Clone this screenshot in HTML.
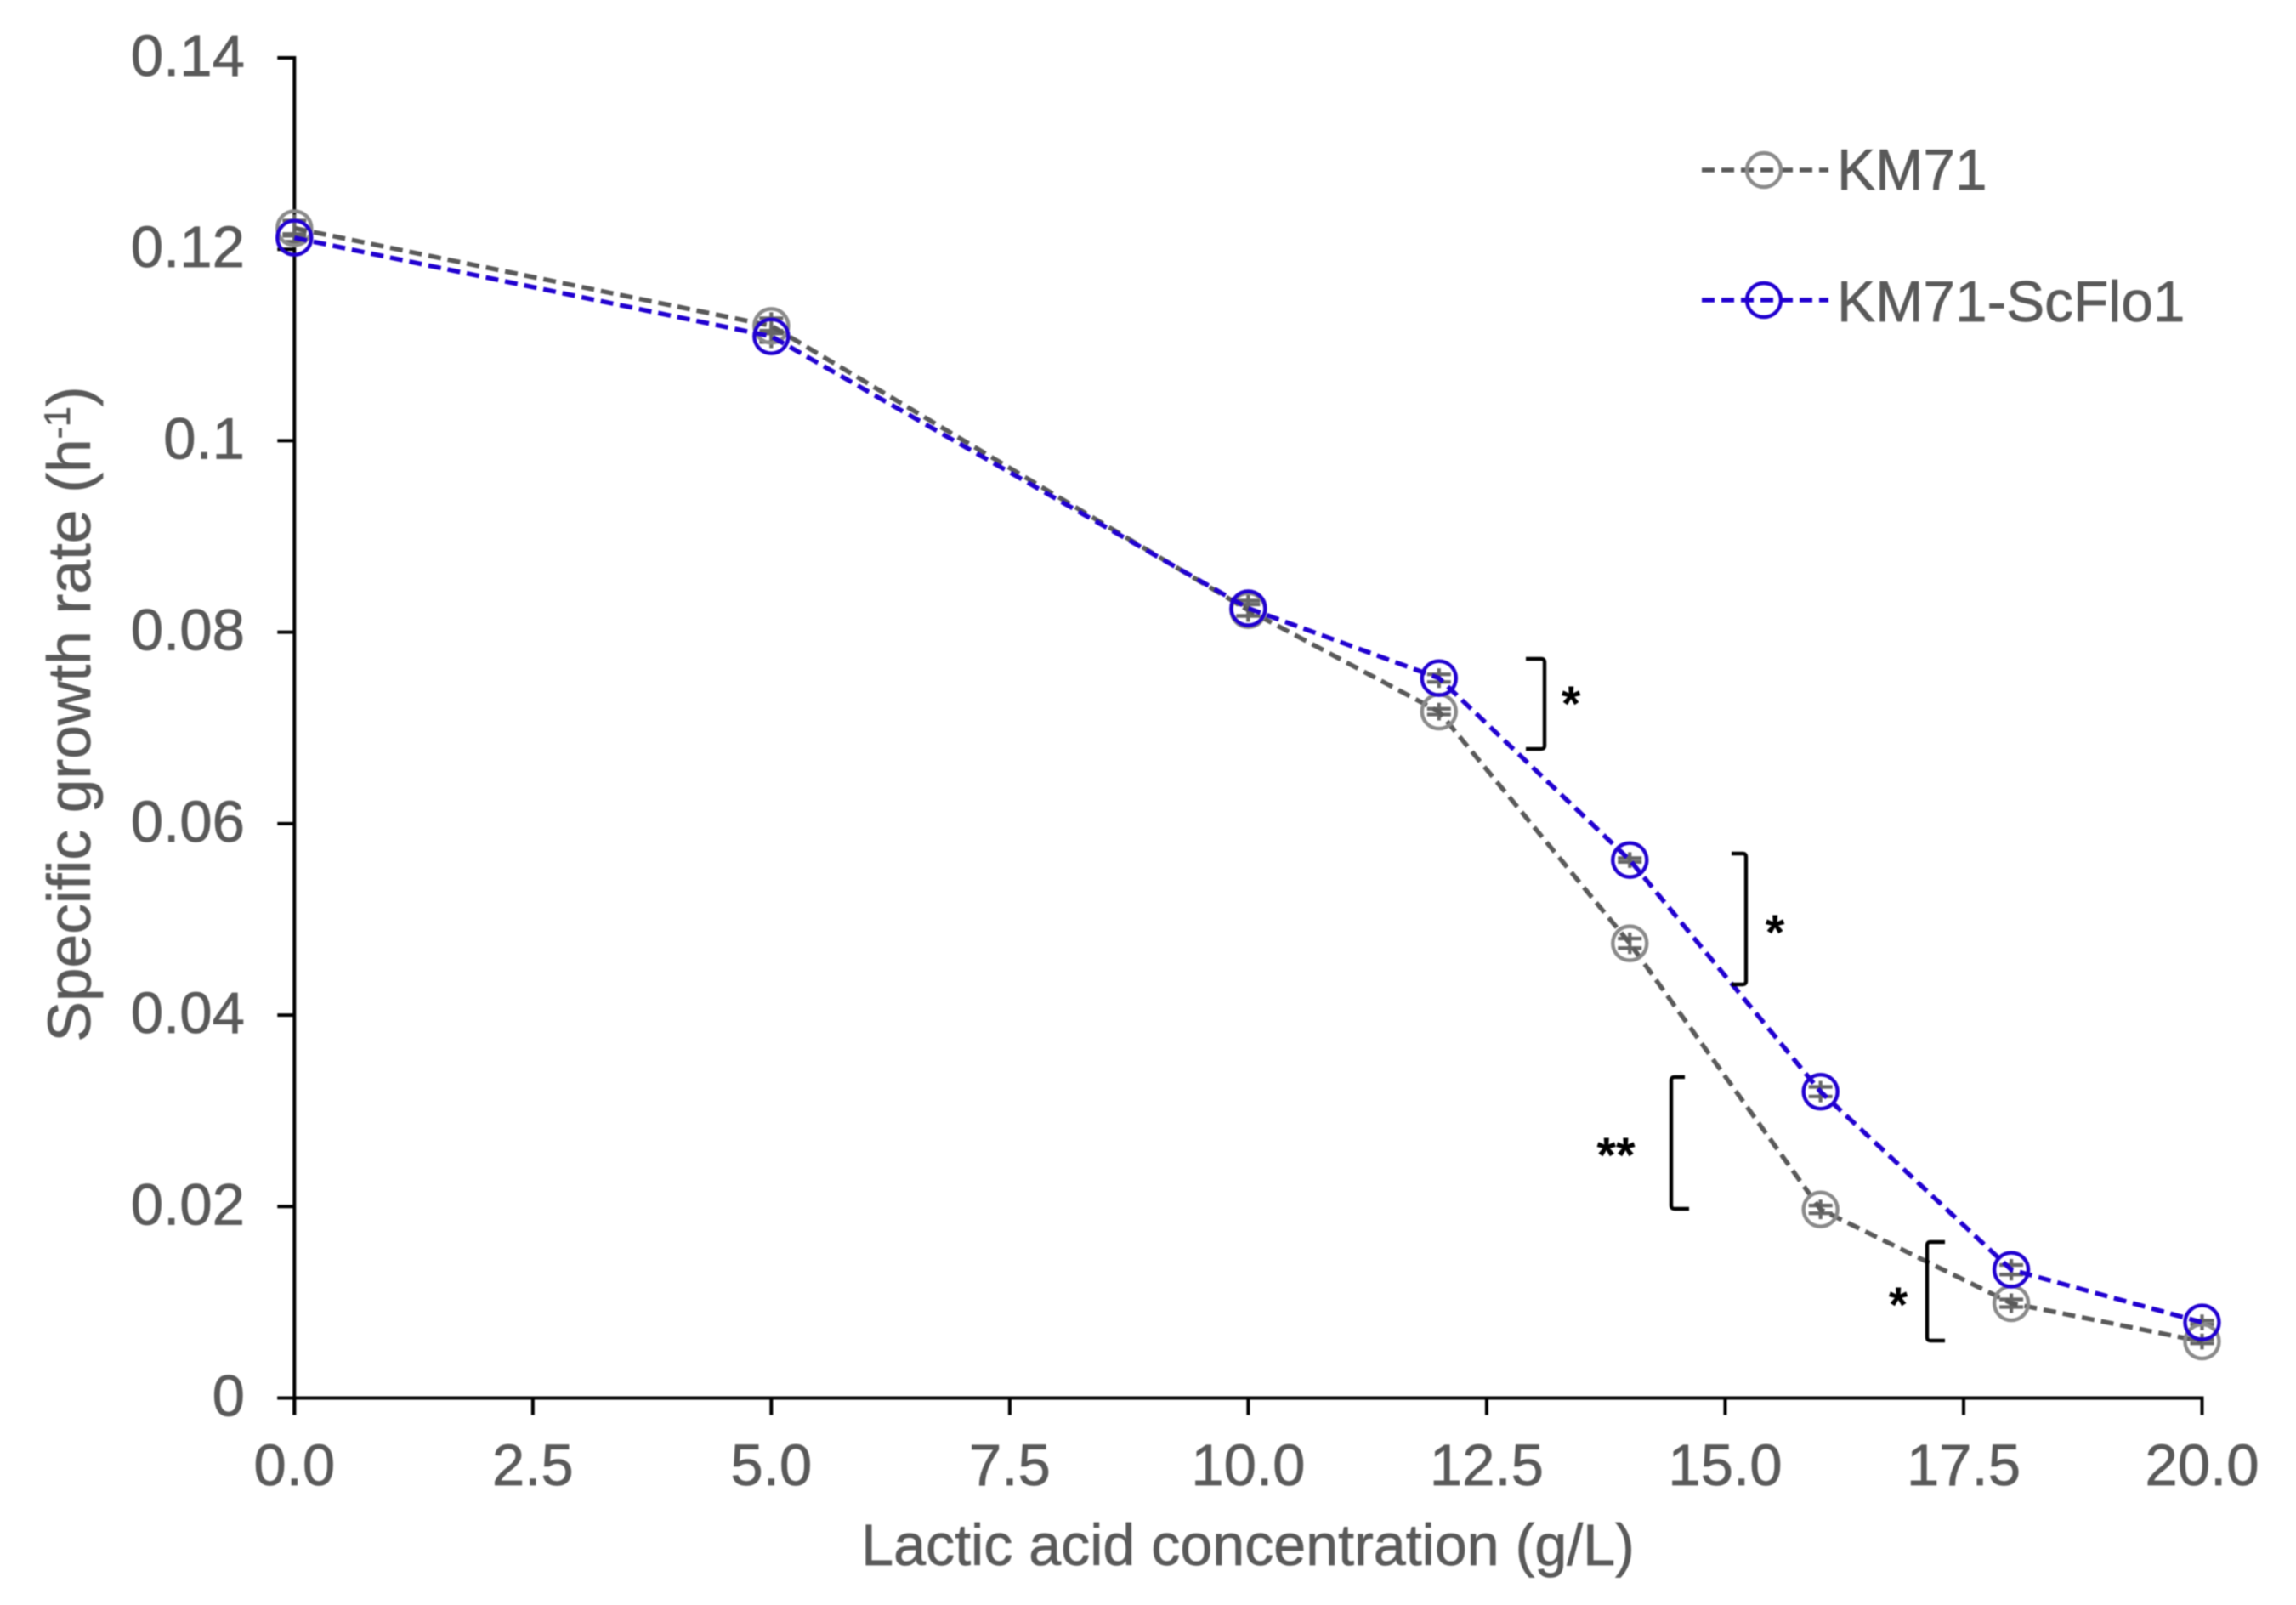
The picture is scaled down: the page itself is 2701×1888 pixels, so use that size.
<!DOCTYPE html>
<html lang="en">
<head>
<meta charset="utf-8">
<title>Specific growth rate vs lactic acid concentration</title>
<style>
html,body{margin:0;padding:0;background:#fff;}
svg{display:block;filter:blur(0.9px);}
text{font-family:"Liberation Sans",Arial,sans-serif;fill:#595959;stroke:#595959;stroke-width:0.7px;}
.star{font-weight:bold;fill:#000;stroke:none;font-size:58px;text-anchor:middle;}
.bracket{fill:none;stroke:#000;stroke-width:4.4;stroke-linejoin:round;}
</style>
</head>
<body>
<svg id="chart" xmlns="http://www.w3.org/2000/svg" width="2701" height="1888" viewBox="0 0 2701 1888">
  <rect x="0" y="0" width="2701" height="1888" fill="#fff"/>
  <g id="axes"></g>
  <g id="series"></g>

  <text x="1468" y="1841" font-size="68.2" text-anchor="middle">Lactic acid concentration (g/L)</text>
  <text transform="translate(106,840) rotate(-90)" font-size="71.3" text-anchor="middle">Specific growth rate (h<tspan font-size="43" dy="-24">-1</tspan><tspan dy="24">)</tspan></text>

  <g>
    <g>
      <line x1="2002" y1="200" x2="2151" y2="200" stroke="#595959" stroke-width="5.4" stroke-dasharray="15 8"/>
      <circle cx="2075" cy="200" r="20" fill="none" stroke="#8a8a8a" stroke-width="4.4"/>
      <text x="2161" y="223" font-size="67.6">KM71</text>
    </g>
    <g>
      <line x1="2002" y1="353" x2="2151" y2="353" stroke="#2000d0" stroke-width="5.4" stroke-dasharray="15 8"/>
      <circle cx="2075" cy="353" r="20" fill="none" stroke="#2000d0" stroke-width="4.4"/>
      <text x="2161" y="378" font-size="67.6">KM71-ScFlo1</text>
    </g>
  </g>

  <g>
    <path class="bracket" d="M1795 775 H1813 Q1817 775 1817 779 V877 Q1817 881 1813 881 H1795"/>
    <text class="star" x="1848" y="848">*</text>
    <path class="bracket" d="M2037 1004 H2050 Q2054 1004 2054 1008 V1154 Q2054 1158 2050 1158 H2037"/>
    <text class="star" x="2088" y="1117">*</text>
    <path class="bracket" d="M1982 1267 H1970 Q1966 1267 1966 1271 V1418 Q1966 1422 1970 1422 H1987"/>
    <text class="star" x="1901" y="1379">**</text>
    <path class="bracket" d="M2288 1461 H2271 Q2267 1461 2267 1465 V1573 Q2267 1577 2271 1577 H2288"/>
    <text class="star" x="2233" y="1555">*</text>
  </g>
</svg>
<script>
const concentrations = [0, 5, 10, 12, 14, 16, 18, 20];
const km71Values = [0.1222, 0.1120, 0.0823, 0.0717, 0.0475, 0.0197, 0.0099, 0.0059];
const scflo1Values = [0.1212, 0.1109, 0.0825, 0.0752, 0.0562, 0.0320, 0.0134, 0.0079];
const km71Errors = [0.0008, 0.0008, 0.0006, 0.0003, 0.0005, 0.0004, 0.0004, 0.0002];
const scflo1Errors = [0.0004, 0.0006, 0.0008, 0.0004, 0.0002, 0.0005, 0.0005, 0.0002];
const xTickValues = [0, 2.5, 5, 7.5, 10, 12.5, 15, 17.5, 20];
const xTickLabels = ["0.0", "2.5", "5.0", "7.5", "10.0", "12.5", "15.0", "17.5", "20.0"];
const yTickValues = [0, 0.02, 0.04, 0.06, 0.08, 0.1, 0.12, 0.14];
const yTickLabels = ["0", "0.02", "0.04", "0.06", "0.08", "0.1", "0.12", "0.14"];

const NS = "http://www.w3.org/2000/svg";
const X0 = 346.3, X1 = 2590.5, Y0 = 1644.5, Y1 = 68;
function xScale(v) { return X0 + (v - 0) / (20 - 0) * (X1 - X0); }
function yScale(v) { return Y0 - (v - 0) / (0.14 - 0) * (Y0 - Y1); }
function make(parent, tag, attrs) {
  const el = document.createElementNS(NS, tag);
  for (const k in attrs) { el.setAttribute(k, attrs[k]); }
  parent.appendChild(el);
  return el;
}

const axes = document.getElementById("axes");
const AXIS_W = 4;

const yAxis = make(axes, "line", { x1: X0, y1: yScale(0.14) - 2, x2: X0, y2: Y0 + 20, stroke: "#000", "stroke-width": AXIS_W });



const xAxis = make(axes, "line", { x1: X0 - 20, y1: Y0, x2: X1 + 2, y2: Y0, stroke: "#000", "stroke-width": AXIS_W });



yTickValues.forEach(function (v, i) {
  const y = yScale(v);
  const tick = make(axes, "line", { x1: X0 - 20, y1: y, x2: X0, y2: y, stroke: "#000", "stroke-width": AXIS_W });
  
  
  const label = make(axes, "text", { x: 288, y: y + 21, "font-size": 69, "text-anchor": "end" });
  
  
  label.textContent = yTickLabels[i];
});

xTickValues.forEach(function (v, i) {
  const x = xScale(v);
  const tick = make(axes, "line", { x1: x, y1: Y0, x2: x, y2: Y0 + 20, stroke: "#000", "stroke-width": AXIS_W });
  
  
  const label = make(axes, "text", { x: x, y: 1747, "font-size": 69, "text-anchor": "middle" });
  
  
  label.textContent = xTickLabels[i];
});

const seriesLayer = document.getElementById("series");

function drawErrors(values, errors, slug) {
  values.forEach(function (v, i) {
    const x = xScale(concentrations[i]);
    const yHi = yScale(v + errors[i]);
    const yLo = yScale(v - errors[i]);
    const err = make(seriesLayer, "path", {
      d: "M" + x + " " + (yHi - 7) + "V" + (yLo + 7) +
         "M" + (x - 14) + " " + yHi + "H" + (x + 14) +
         "M" + (x - 14) + " " + yLo + "H" + (x + 14),
      fill: "none", stroke: "#666", "stroke-width": 4.2
    });
    
    
  });
}

function drawSeries(values, slug, lineColor, markerColor) {
  const pts = values.map(function (v, i) { return xScale(concentrations[i]) + "," + yScale(v); }).join(" ");
  const line = make(seriesLayer, "polyline", {
    points: pts, fill: "none", stroke: lineColor, "stroke-width": 5.4,
    "stroke-dasharray": "15 8", "stroke-linejoin": "round"
  });
  
  
  values.forEach(function (v, i) {
    const marker = make(seriesLayer, "circle", {
      cx: xScale(concentrations[i]), cy: yScale(v), r: 20,
      fill: "none", stroke: markerColor, "stroke-width": 4.4
    });
    
    
  });
}

drawErrors(km71Values, km71Errors, 'km71');
drawErrors(scflo1Values, scflo1Errors, 'km71-scflo1');
drawSeries(km71Values, 'km71', '#595959', '#8a8a8a');
drawSeries(scflo1Values, 'km71-scflo1', '#2000d0', '#2000d0');
</script>
</body>
</html>
